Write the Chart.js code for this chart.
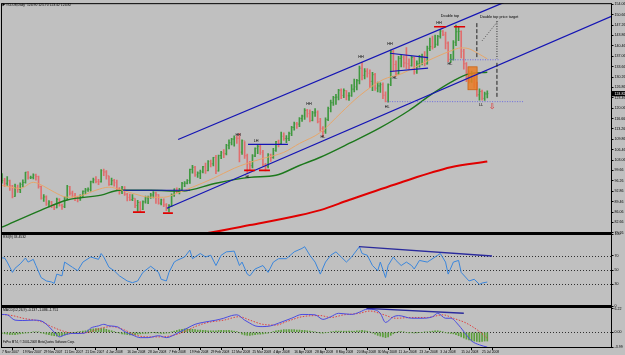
<!DOCTYPE html>
<html><head><meta charset="utf-8">
<script src="https://cdn.jsdelivr.net/npm/chart.js@4.4.1/dist/chart.umd.min.js"></script>
<style>
html,body{margin:0;padding:0;background:#c0c0c0;}
#wrap{position:relative;width:625px;height:355px;overflow:hidden;background:#c0c0c0;}
#wrap canvas{position:absolute;left:0;top:0;}
</style></head><body>
<div id="wrap">
<canvas id="cPrice" width="625" height="355"></canvas>
<canvas id="cRsi" width="625" height="355"></canvas>
<canvas id="cMacd" width="625" height="355"></canvas>
</div>
<script>
// ---------- DATA ----------
const tickDates = ['7 Nov 2007','19 Nov 2007','29 Nov 2007','11 Dec 2007','21 Dec 2007','4 Jan 2008','16 Jan 2008','28 Jan 2008','7 Feb 2008','19 Feb 2008','29 Feb 2008','12 Mar 2008','25 Mar 2008','4 Apr 2008','16 Apr 2008','28 Apr 2008','8 May 2008','20 May 2008','30 May 2008','11 Jun 2008','23 Jun 2008','3 Jul 2008','15 Jul 2008','25 Jul 2008'];
const priceTicks = [154.06,150.66,147.26,143.86,140.46,137.06,133.66,130.26,126.86,123.46,120.06,116.66,113.26,109.86,106.46,103.06,99.66,96.26,92.86,89.46,86.06,82.66,79.26];
const rsiTicks = [0,30,50,70,100];
const macdTicks = [6.22,0,-3.99];

const barHigh = [98.62,97.10,97.70,96.50,94.80,95.20,94.90,95.60,96.60,99.10,
99.29,97.80,98.60,98.50,97.80,94.60,91.80,91.40,89.80,89.60,
88.60,90.60,90.50,88.70,91.00,94.80,94.50,92.90,92.20,91.20,
91.70,93.00,93.80,94.00,96.20,97.20,97.70,96.80,100.00,100.09,
99.60,97.80,97.20,96.80,96.50,94.10,94.50,94.40,92.20,91.90,
91.80,90.50,89.90,89.50,89.70,91.30,91.30,92.20,92.80,92.60,
91.80,90.30,90.40,88.80,88.50,92.00,93.70,94.00,93.80,95.80,
96.00,96.70,100.10,101.32,101.00,99.20,99.80,101.00,102.08,102.90,
103.05,103.95,104.60,104.70,105.97,106.54,108.21,109.72,110.20,111.00,
111.00,111.80,109.70,109.10,105.00,102.70,104.90,107.10,108.00,107.90,
106.30,102.00,105.20,105.00,106.90,109.20,109.60,112.21,112.00,111.10,
112.25,114.08,115.54,115.40,117.00,117.80,119.90,119.70,119.50,119.00,
119.93,119.20,116.70,114.00,116.90,120.40,122.73,123.90,124.60,126.20,
126.40,126.40,125.80,125.20,127.82,129.60,129.50,133.82,135.09,133.00,
133.00,132.60,131.80,131.50,128.60,128.40,128.40,125.40,128.00,139.12,
139.00,135.60,137.00,137.60,137.20,139.89,136.20,137.00,136.80,135.60,
137.40,137.80,138.60,140.39,142.99,143.67,143.99,143.90,145.85,145.50,
145.00,141.80,137.70,142.20,147.27,146.70,145.40,139.30,135.00,132.30,
132.20,131.70,128.60,126.40,126.00,125.30,125.70];
const barLow = [95.50,94.45,94.80,93.10,90.70,91.20,92.50,92.40,94.30,95.50,
96.80,97.00,96.90,96.50,93.90,90.30,89.50,88.20,87.70,87.50,
86.80,87.40,88.00,86.90,87.50,90.00,91.60,90.90,89.80,89.40,
89.90,90.90,92.00,92.80,92.90,95.60,95.60,95.00,95.80,98.00,
96.80,94.80,94.90,94.50,93.30,91.90,92.10,91.50,89.70,89.80,
89.80,87.50,86.30,86.11,86.80,89.00,88.80,90.50,90.70,88.90,
88.60,88.40,87.80,86.50,86.11,87.90,91.20,92.30,92.00,93.00,
94.40,95.30,95.40,98.80,97.70,97.40,97.00,98.90,98.70,99.50,
100.80,101.20,98.60,99.40,103.50,103.90,104.80,106.70,108.00,107.60,
108.50,102.50,104.90,103.60,98.65,99.60,100.50,104.20,105.20,104.90,
101.20,99.55,100.50,102.60,103.60,105.90,107.40,108.10,109.50,108.80,
109.40,111.10,112.90,113.40,114.00,115.70,116.40,117.10,115.60,115.90,
117.40,115.20,112.50,110.70,111.80,116.00,118.80,121.00,121.30,122.80,
123.20,123.50,122.80,122.60,123.90,125.40,126.00,128.00,129.30,129.60,
130.20,126.80,125.80,125.90,125.40,125.20,123.20,122.10,122.00,127.40,
132.20,130.50,131.00,133.60,133.50,133.00,132.90,133.80,131.20,131.40,
133.50,134.20,133.90,134.50,138.90,139.40,140.00,140.60,143.00,143.80,
139.45,135.30,135.00,135.80,140.50,142.20,136.50,132.80,128.70,128.25,
128.50,126.70,123.90,122.70,122.70,122.60,123.42];
const barClose = [96.37,95.46,96.32,94.62,91.17,94.09,93.43,95.10,95.74,99.16,
97.29,97.40,98.18,97.70,94.42,90.62,91.01,88.71,89.31,88.32,
87.49,90.23,88.28,87.86,90.76,94.39,92.25,91.27,90.63,90.49,
91.20,92.85,93.31,93.48,95.97,96.62,96.00,95.98,99.62,99.18,
97.91,95.09,96.33,95.67,93.67,92.69,94.20,91.90,90.84,90.13,
90.57,88.20,89.21,86.99,89.41,90.71,90.99,91.64,92.33,91.75,
88.96,90.02,88.41,87.14,88.11,91.77,93.59,92.78,93.27,95.46,
95.50,96.40,100.01,100.74,98.23,98.81,99.23,100.88,99.64,102.59,
101.84,103.95,99.52,104.52,105.47,105.15,107.90,108.75,109.92,110.33,
110.21,105.68,109.42,104.48,101.84,101.22,104.40,106.90,107.58,105.62,
101.58,100.98,104.83,103.92,106.23,109.09,108.50,110.87,110.11,110.14,
111.76,113.79,114.93,114.86,116.69,117.48,119.37,118.30,116.06,118.52,
118.75,115.63,113.46,112.52,116.32,119.97,121.84,123.53,123.69,125.96,
124.23,125.80,124.12,124.12,126.29,127.05,129.07,133.17,130.81,132.19,
131.50,128.85,131.03,126.62,127.35,127.76,124.31,122.30,127.79,138.54,
134.35,131.31,136.38,136.74,134.86,134.61,134.01,136.68,131.93,134.62,
136.74,137.00,134.55,139.64,140.21,140.00,140.97,143.57,145.29,144.10,
141.37,136.04,136.05,141.65,145.08,145.18,138.74,134.60,129.29,128.88,
131.04,127.95,124.44,125.49,123.26,124.73,124.82];

const emaIdx = [0,7,12,16,20,25,31,36,41,45,50,57,62,67,73,81,89,94,100,108,114,122,130,137,146,153,163,172,176,179,182,186];
const emaVal = [94.8,93.8,95.8,94.5,92.6,90.9,91.6,93.2,94.2,93.5,92.2,90.9,90.9,92.2,94.2,97.1,100.4,102.0,103.6,105.6,108.5,112.1,118.6,124.1,129.4,131.3,135.5,138.8,139.8,139.5,138.2,136.2];
const sma50Idx = [0,15,25,38,45,57,69,82,95,105,114,122,133,145,156,165,173,179,186];
const sma50Val = [81.1,86.7,90.0,91.6,93.2,93.2,92.9,95.5,97.4,98.1,101.3,104.0,108.5,113.7,119.3,124.8,129.0,131.3,131.8];
const sma200Idx = [70,80,95,114,122,133,152,172,186];
const sma200Val = [78.2,79.4,81.8,85.0,86.7,90.0,95.5,100.7,102.6];

const rsiIdx = [0,1,2,4,5,7,9,10,12,13,15,17,19,20,21,23,24,27,29,31,34,37,38,39,41,43,45,48,50,52,54,57,60,61,63,64,66,67,70,72,73,76,78,80,82,84,86,89,91,92,94,95,97,100,102,104,106,109,112,115,116,118,120,122,124,126,128,130,132,134,137,138,140,142,144,145,147,148,150,151,153,155,157,158,160,163,164,167,168,170,171,173,175,176,179,181,183,184,186];
const rsiVal = [66.7,66.7,61.0,46.7,52.4,58.6,66.7,61.0,64.8,56.2,39.5,34.8,33.3,31.4,44.3,41.9,61.0,53.8,49.0,61.0,68.1,64.8,72.9,68.1,53.8,49.0,41.9,34.8,32.4,34.8,46.7,55.2,46.7,37.1,34.8,46.7,61.0,63.3,68.1,77.6,65.7,72.9,68.1,70.5,56.2,70.5,75.2,76.2,56.2,61.0,44.3,41.9,51.4,56.2,46.7,61.0,65.7,65.7,75.2,80.0,82.4,70.5,61.0,44.3,61.0,70.5,75.2,68.1,61.0,68.1,82.4,72.9,70.5,56.2,49.0,61.0,39.5,56.2,68.1,63.3,56.2,61.0,56.2,51.4,63.3,61.0,63.3,70.5,72.9,61.0,44.3,61.0,63.3,46.7,34.8,37.1,30.0,31.9,33.3];

const macdIdx = [0,2,5,8,12,15,18,21,22,24,27,30,32,34,37,39,41,44,47,50,53,56,60,63,67,71,74,77,82,85,88,90,93,95,97,100,103,106,111,115,120,123,126,129,134,137,140,143,145,147,150,152,157,161,165,167,170,172,175,178,180,183,186];
const macdVal = [4.7,4.6,3.2,3.1,3.2,3.0,1.5,-0.7,-1.2,-0.7,-0.3,-0.3,-0.1,1.1,1.7,2.1,1.7,1.5,0.2,-0.7,-1.4,-1.4,-0.9,-1.4,-0.3,1.1,2.1,2.6,3.2,3.7,4.4,4.6,3.2,2.4,1.7,1.5,1.7,2.4,3.7,4.7,4.6,3.4,4.1,5.0,4.7,5.3,6.1,5.9,5.0,2.6,4.1,4.4,3.7,3.7,4.1,5.0,3.7,3.7,1.9,-0.7,-2.3,-3.3,-3.9];
const signalIdx = [0,4,8,15,19,24,28,33,38,42,47,51,56,60,65,70,74,79,85,91,95,100,105,109,115,122,126,131,137,141,146,151,157,163,169,173,178,183,186];
const signalVal = [4.7,4.4,3.7,2.8,1.5,0.2,-0.3,0.0,1.1,1.5,0.6,-0.7,-1.2,-1.2,-0.9,0.2,1.5,2.6,3.2,4.1,3.2,2.1,1.9,2.8,4.1,4.4,3.9,4.6,5.0,5.6,4.7,3.7,3.9,3.9,4.6,3.7,2.4,0.2,-1.6];
const osmaVal = [-0.3,-0.4,-0.5,-0.6,-0.6,
-0.6,-0.5,-0.4,-0.3,-0.2,-0.1,0.0,0.1,0.1,0.1,
-0.1,-0.3,-0.5,-0.6,-0.8,-0.9,-1.0,-1.0,-0.9,-0.7,-0.5,
-0.3,-0.2,0.0,0.1,0.2,0.3,0.4,0.6,0.8,0.9,1.0,
1.0,1.0,1.0,0.8,0.6,0.4,0.2,0.0,-0.2,-0.4,
-0.5,-0.6,-0.7,-0.7,-0.6,-0.5,-0.4,-0.3,-0.3,-0.2,-0.1,0.0,-0.1,-0.2,-0.3,-0.3,-0.2,
-0.1,0.1,0.3,0.5,0.7,0.8,0.9,0.9,0.8,0.8,0.7,0.6,0.6,0.5,0.5,0.4,0.4,0.4,0.4,0.5,0.5,0.5,0.5,0.5,0.4,0.3,0.2,-0.1,-0.5,
-0.7,-0.8,-0.8,-0.7,-0.6,-0.5,-0.5,-0.4,-0.3,-0.2,0.0,0.2,0.4,0.5,0.6,0.7,
0.7,0.7,0.7,0.7,0.6,0.6,0.5,0.5,0.4,0.3,0.2,0.1,0.0,-0.2,-0.2,-0.1,0.0,0.1,0.2,0.3,0.3,0.3,0.3,0.3,0.3,0.3,0.3,0.4,0.4,0.5,0.4,
0.3,0.1,-0.2,-0.5,-0.8,-1.0,-1.2,-1.4,-1.2,-0.8,-0.4,0.0,0.2,0.2,0.1,0.0,
-0.1,-0.1,-0.2,-0.1,0.0,0.0,0.1,0.1,0.2,0.3,0.4,0.4,0.3,0.1,-0.1,-0.2,-0.3,
-0.4,-0.6,-0.9,-1.2,-1.5,-1.8,-2.0,-2.2,-2.3,-2.4,-2.5,-2.4,-2.3,-2.3];

// annotations, in (bar index, price) data units
const channelLines = [[67.5,109.8,193.6,155.1],[63.2,87.3,233.8,150.2]];
const levelLines = [[46.4,93.2,72.1,93.2],[94.3,108.2,109.6,108.2]];
const pennantLines = [[148.7,138.05,163.3,136.6],[148.7,132.06,163.3,133.17]];
const swingMarks = [[50.2,86.03,54.8],[61.7,85.7,65.5],[92.8,99.7,97.0],[98.5,99.7,102.7],[165.6,146.7,170.2],[173.2,146.7,177.5]];
const dottedLevels = [[147.6,122.2,199.7],[171.7,135.9,190.9]];
const dashedVerticals = [[182.0,147.9,136.2],[189.7,134.9,123.2]];
const dottedVerticals = [[189.7,148.6,136.2]];
const targetDiagonal = [184.0,142.1,190.1,148.6];
const breakoutBox = [178.6,133.6,182.1,126.1];
const waveLabels = [['HH',90.5,111.4],['LH',97.4,109.2],['HL',94.3,97.4],['HH',117.7,121.5],['HL',123.0,110.5],['HH',137.6,136.8],['HH',148.7,141.1],['HL',150.6,130.0],['HL',147.6,120.6],['HH',167.5,147.9],['HL',171.7,134.6],['LL',183.6,121.2]];
const noteLabels = [['Double top',171.7,150.2,'center'],['Double top price target',183.2,149.9,'left']];
const arrowMark = [187.8,120.6];
const rsiTrend = [136.8,82.4,187.8,69.5];
const macdTrend = [139.7,6.3,177.0,5.0];
const rsiLevels = [30,50,70];

// ---------- RENDERING ----------
const FONT = "'Liberation Sans', Arial, sans-serif";
const X_MIN = -0.383, X_MAX = 233.8;
const P_MAX = 154.44, P_MIN = 79.20;
const M_MAX = 6.66, M_MIN = -4.13;
const pts = (ix, v) => ix.map((x, k) => ({x, y: v[k]}));
const barColors = barClose.map((c, i) => (i === 0 || c >= barClose[i - 1]) ? '#3f983f' : '#e06e6e');

function xScale(show) {
  return {type:'linear', min:X_MIN, max:X_MAX, offset:false, display:show,
    afterBuildTicks: s => { s.ticks = tickDates.map((d, k) => ({value:k * 8})); },
    afterFit: s => { if (show) s.height = 7; },
    ticks:{autoSkip:false, maxRotation:0, minRotation:0, align:'start', padding:0.5, color:'#000',
      font:{family:FONT, size:3.3}, callback: v => tickDates[Math.round(v / 8)]},
    grid:{drawOnChartArea:false, drawTicks:true, tickLength:2, color:'#000', lineWidth:1},
    border:{display:false}};
}
function yScale(min, max, ticks, fmt) {
  return {position:'right', min, max, bounds:'data',
    afterBuildTicks: s => { s.ticks = ticks.map(v => ({value:v})); },
    afterFit: s => { s.width = 13; },
    ticks:{color:'#000', font:{family:FONT, size:3.6}, padding:1, autoSkip:false, callback: fmt},
    grid:{drawOnChartArea:false, tickLength:1.5, color:'#000'},
    border:{display:false}};
}
const common = {responsive:false, devicePixelRatio:1, animation:false, events:[]};
const noPlug = {legend:{display:false}, tooltip:{enabled:false}};

function frame(extraTop) {
  return {id:'frame', afterDraw(chart) {
    const {ctx, chartArea:a} = chart;
    ctx.save(); ctx.strokeStyle = '#000'; ctx.lineWidth = 1;
    ctx.strokeRect(a.left + 0.5, a.top + 0.5, a.right - a.left - 1, a.bottom - a.top - 1);
    if (extraTop) { ctx.fillStyle = '#000'; ctx.fillRect(a.left, a.top - 1, a.right - a.left, 1); }
    ctx.restore();
  }};
}
function clipArea(ctx, a) { ctx.beginPath(); ctx.rect(a.left, a.top, a.right - a.left, a.bottom - a.top); ctx.clip(); }

const ohlcTicks = {id:'ohlcTicks', beforeDatasetsDraw(chart) {
  const {ctx, scales:{x, y}} = chart;
  ctx.save();
  barClose.forEach((c, i) => {
    const px = x.getPixelForValue(i);
    ctx.fillStyle = barColors[i];
    ctx.fillRect(px, y.getPixelForValue(c) - 0.5, 1, 1);
    if (i > 0) ctx.fillRect(px - 1, y.getPixelForValue(barClose[i - 1]) - 0.5, 1, 1);
  });
  ctx.restore();
}};

const priceAnno = {id:'priceAnno', afterDatasetsDraw(chart) {
  const {ctx, chartArea:a, scales:{x, y}} = chart;
  const X = v => x.getPixelForValue(v), Y = v => y.getPixelForValue(v);
  const seg = (x1, y1, x2, y2, color, w, dash) => {
    ctx.strokeStyle = color; ctx.lineWidth = w; ctx.setLineDash(dash || []);
    ctx.beginPath(); ctx.moveTo(X(x1), Y(y1)); ctx.lineTo(X(x2), Y(y2)); ctx.stroke();
  };
  ctx.save(); clipArea(ctx, a);
  const b = breakoutBox;
  ctx.fillStyle = 'rgba(232,124,36,0.85)';
  ctx.fillRect(X(b[0]), Y(b[1]), X(b[2]) - X(b[0]), Y(b[3]) - Y(b[1]));
  ctx.strokeStyle = '#c86414'; ctx.lineWidth = 0.8;
  ctx.strokeRect(X(b[0]), Y(b[1]), X(b[2]) - X(b[0]), Y(b[3]) - Y(b[1]));
  channelLines.forEach(l => seg(l[0], l[1], l[2], l[3], '#1414b4', 1.3));
  levelLines.forEach(l => seg(l[0], l[1], l[2], l[3], '#1414b4', 1.2));
  pennantLines.forEach(l => seg(l[0], l[1], l[2], l[3], '#1414b4', 1.2));
  swingMarks.forEach(l => seg(l[0], l[1], l[2], l[1], '#e00000', 1.6));
  dottedLevels.forEach(l => seg(l[0], l[1], l[2], l[1], '#6a6ae0', 1, [1, 1.5]));
  dashedVerticals.forEach(l => seg(l[0], l[1], l[0], l[2], '#202020', 1, [4, 2]));
  dottedVerticals.forEach(l => seg(l[0], l[1], l[0], l[2], '#303030', 1, [1, 1.5]));
  const d = targetDiagonal; seg(d[0], d[1], d[2], d[3], '#404040', 0.8, [1, 1.5]);
  ctx.setLineDash([]);
  ctx.fillStyle = '#000'; ctx.font = '3.8px ' + FONT; ctx.textBaseline = 'middle'; ctx.textAlign = 'center';
  waveLabels.forEach(t => ctx.fillText(t[0], X(t[1]), Y(t[2])));
  noteLabels.forEach(t => { ctx.textAlign = t[3]; ctx.fillText(t[0], X(t[1]), Y(t[2])); });
  ctx.fillStyle = '#e02020'; ctx.textAlign = 'center'; ctx.font = '8px "DejaVu Sans"';
  ctx.fillText('\u21E9', X(arrowMark[0]), Y(arrowMark[1]));
  ctx.restore();
  // title + current price marker
  ctx.save();
  ctx.fillStyle = '#000';
  ctx.beginPath(); ctx.moveTo(2.5, 3); ctx.lineTo(5, 4.6); ctx.lineTo(2.5, 6.2); ctx.closePath(); ctx.fill();
  ctx.font = '3.4px ' + FONT; ctx.textBaseline = 'middle'; ctx.textAlign = 'left';
  ctx.fillText('#CLU8,Daily  124.90 125.70 123.42 124.82', 6, 4.8);
  const last = barClose[barClose.length - 1], py = Y(last);
  ctx.fillRect(a.right, py - 2.6, 13, 5.2);
  ctx.fillStyle = '#fff'; ctx.font = '3.6px ' + FONT;
  ctx.fillText(last.toFixed(2), a.right + 2.5, py + 0.2);
  ctx.restore();
}};

new Chart(document.getElementById('cPrice'), {
  type:'bar',
  data:{datasets:[
    {type:'line', data:pts(emaIdx, emaVal), borderColor:'#e6a66a', borderWidth:1, pointRadius:0, cubicInterpolationMode:'monotone', order:1},
    {type:'line', data:pts(sma50Idx, sma50Val), borderColor:'#1c781c', borderWidth:1.4, pointRadius:0, cubicInterpolationMode:'monotone', order:2},
    {type:'line', data:pts(sma200Idx, sma200Val), borderColor:'#e00000', borderWidth:2, pointRadius:0, cubicInterpolationMode:'monotone', order:3},
    {type:'bar', data:barHigh.map((h, i) => ({x:i, y:[barLow[i], h]})), backgroundColor:barColors, barThickness:1, grouped:false, order:10}
  ]},
  options:{...common, plugins:noPlug, layout:{padding:{left:1, right:0, top:2, bottom:122}},
    scales:{x:xScale(false), y:yScale(P_MIN, P_MAX, priceTicks, v => v.toFixed(2))}},
  plugins:[ohlcTicks, priceAnno, frame(false)]
});

const rsiAnno = {id:'rsiAnno', beforeDatasetsDraw(chart) {
  const {ctx, chartArea:a, scales:{x, y}} = chart;
  ctx.save(); ctx.strokeStyle = '#303030'; ctx.lineWidth = 1; ctx.setLineDash([1, 2]);
  rsiLevels.forEach(v => { const py = Math.round(y.getPixelForValue(v)) + 0.5; ctx.beginPath(); ctx.moveTo(a.left, py); ctx.lineTo(a.right, py); ctx.stroke(); });
  ctx.restore();
}, afterDatasetsDraw(chart) {
  const {ctx, chartArea:a, scales:{x, y}} = chart;
  ctx.save(); clipArea(ctx, a);
  ctx.strokeStyle = '#2a2a9c'; ctx.lineWidth = 1.4;
  ctx.beginPath(); ctx.moveTo(x.getPixelForValue(rsiTrend[0]), y.getPixelForValue(rsiTrend[1]));
  ctx.lineTo(x.getPixelForValue(rsiTrend[2]), y.getPixelForValue(rsiTrend[3])); ctx.stroke();
  ctx.fillStyle = '#000'; ctx.font = '3.4px ' + FONT; ctx.textBaseline = 'middle';
  ctx.fillText('RSI(9) 33.4532', 3, a.top + 3.5);
  ctx.restore();
}};
new Chart(document.getElementById('cRsi'), {
  type:'line',
  data:{datasets:[{data:pts(rsiIdx, rsiVal), borderColor:'#3a86dc', borderWidth:1, pointRadius:0, tension:0}]},
  options:{...common, plugins:noPlug, layout:{padding:{left:1, right:0, top:234, bottom:49}},
    scales:{x:xScale(false), y:yScale(0, 100, rsiTicks, v => String(v))}},
  plugins:[rsiAnno, frame(true)]
});

const macdAnno = {id:'macdAnno', beforeDatasetsDraw(chart) {
  const {ctx, chartArea:a, scales:{y}} = chart;
  ctx.save(); ctx.strokeStyle = '#303030'; ctx.lineWidth = 1; ctx.setLineDash([1, 2]);
  const py = Math.round(y.getPixelForValue(0)) + 0.5;
  ctx.beginPath(); ctx.moveTo(a.left, py); ctx.lineTo(a.right, py); ctx.stroke();
  ctx.restore();
}, afterDatasetsDraw(chart) {
  const {ctx, chartArea:a, scales:{x, y}} = chart;
  ctx.save(); clipArea(ctx, a);
  ctx.strokeStyle = '#2a2a9c'; ctx.lineWidth = 1.4;
  ctx.beginPath(); ctx.moveTo(x.getPixelForValue(macdTrend[0]), y.getPixelForValue(macdTrend[1]));
  ctx.lineTo(x.getPixelForValue(macdTrend[2]), y.getPixelForValue(macdTrend[3])); ctx.stroke();
  ctx.fillStyle = '#000'; ctx.font = '3.4px ' + FONT; ctx.textBaseline = 'middle';
  ctx.fillText('MACD(12,26,9) -0.137 -1.086 -1.751', 3, a.top + 3.5);
  ctx.font = '3px ' + FONT;
  ctx.fillText('FxPro MT4, \u00A9 2001-2008 MetaQuotes Software Corp.', 3, a.bottom - 6);
  ctx.restore();
}};
new Chart(document.getElementById('cMacd'), {
  type:'bar',
  data:{datasets:[
    {type:'line', data:pts(macdIdx, macdVal), borderColor:'#4a4ae0', borderWidth:1, pointRadius:0, cubicInterpolationMode:'monotone', order:1},
    {type:'line', data:pts(signalIdx, signalVal), borderColor:'#e04040', borderWidth:1, borderDash:[1.5, 1.5], pointRadius:0, cubicInterpolationMode:'monotone', order:2},
    {type:'bar', data:osmaVal.map((v, i) => ({x:i, y:v})), backgroundColor:'#5c9e3c', barThickness:1, grouped:false, order:10}
  ]},
  options:{...common, plugins:noPlug, layout:{padding:{left:1, right:0, top:307, bottom:0}},
    scales:{x:xScale(true), y:yScale(M_MIN, M_MAX, macdTicks, v => v === 0 ? '0.00' : v.toFixed(2))}},
  plugins:[macdAnno, frame(true)]
});
</script>
</body></html>
